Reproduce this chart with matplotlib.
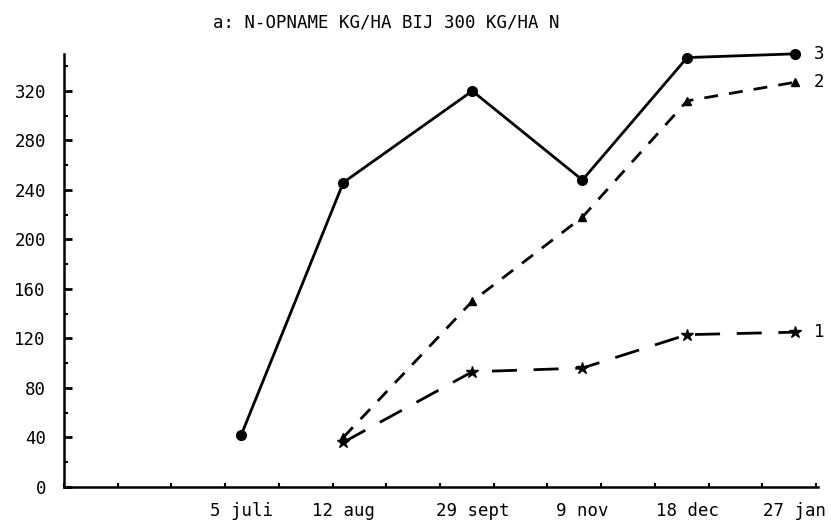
import numpy as np
import pandas as pd
import matplotlib
matplotlib.use("Agg")
import matplotlib.pyplot as plt

# sampling dates (season 1 jul -> jan)
dates = ["1980-07-05", "1980-08-12", "1980-09-29", "1980-11-09", "1980-12-18", "1981-01-27"]
date_labels = ["5 juli", "12 aug", "29 sept", "9 nov", "18 dec", "27 jan"]

# N-opname kg/ha
n3 = [42, 246, 320, 248, 347, 350]        # from 5 juli
n2 = [40, 150, 218, 312, 327]             # from 12 aug
n1 = [36, 93, 96, 123, 125]               # from 12 aug

days = (pd.to_datetime(dates) - pd.to_datetime(dates[0])).days.to_numpy()

plt.rcParams["font.family"] = ["DejaVu Sans Mono", "DejaVu Sans"]
plt.rcParams["font.size"] = 12.5

fig = plt.figure(figsize=(8.31, 5.28), dpi=100)
ax = fig.add_axes([0.077, 0.078, 0.907, 0.82])

ax.plot(days, n3, "-", color="black", lw=2, marker="o", ms=7, clip_on=False)
ax.plot(days[1:], n2, color="black", lw=2, ls=(0, (5, 4)), marker="^", ms=6,
        clip_on=False)
ax.plot(days[1:], n1, color="black", lw=2, ls=(0, (9, 6)), marker="*", ms=9,
        clip_on=False)

for lab, y in zip(["3", "2", "1"], [n3[-1], n2[-1], n1[-1]]):
    ax.annotate(lab, (days[-1], y), xytext=(14, 0), textcoords="offset points",
                ha="left", va="center")

ax.set_xlim(-66, 214.6)
ax.set_ylim(0, 350)

ax.set_xticks(days)
ax.set_xticklabels(date_labels)
ax.set_xticks(np.arange(-66, 215, 20), minor=True)
ax.tick_params(axis="x", which="major", length=0, pad=11)
ax.tick_params(axis="x", which="minor", direction="in", length=3, width=1.5)

ax.set_yticks(np.arange(0, 321, 40))
ax.set_yticks(np.arange(0, 341, 20), minor=True)
ax.tick_params(axis="y", which="major", direction="in", length=6, width=2, pad=13)
ax.tick_params(axis="y", which="minor", direction="in", length=3, width=1.5)

for s in ["top", "right"]:
    ax.spines[s].set_visible(False)
for s in ["left", "bottom"]:
    ax.spines[s].set_linewidth(1.8)

fig.text(0.4645, 0.958, "a: N-OPNAME KG/HA BIJ 300 KG/HA N", ha="center", va="center")

fig.savefig("out.png", dpi=100)
